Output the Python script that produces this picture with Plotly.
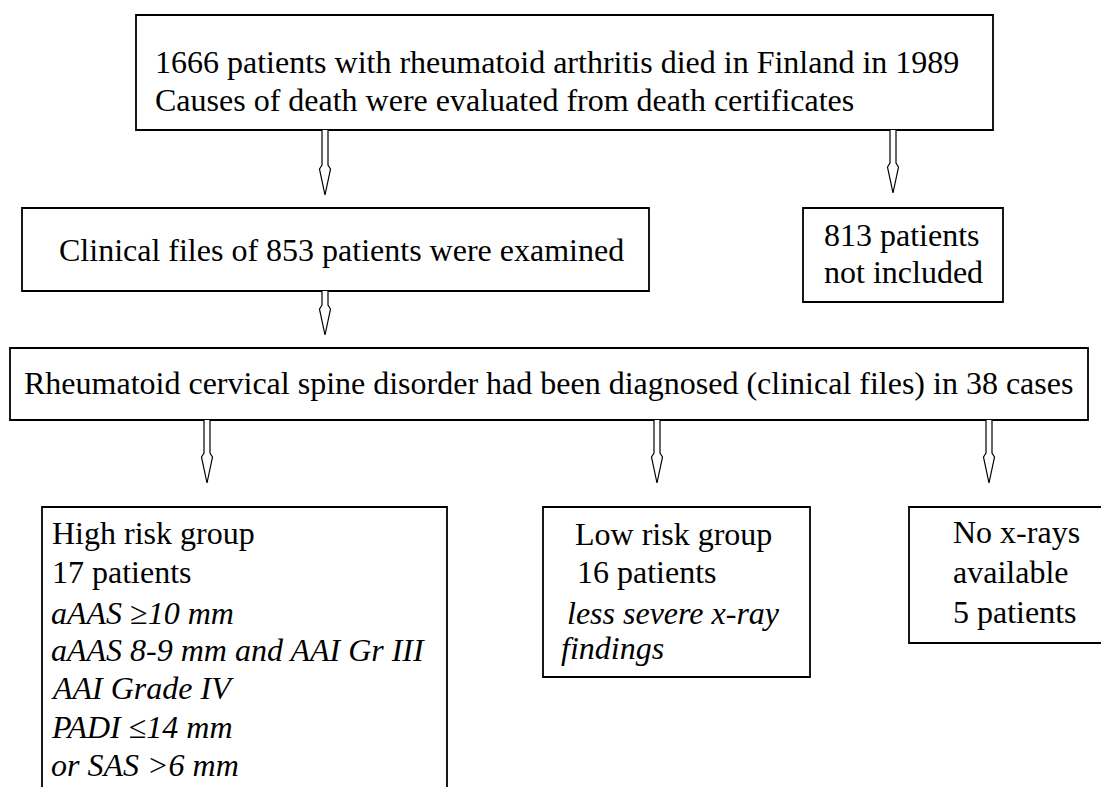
import plotly.graph_objects as go

# ---- data (counts shown in the flowchart) ----
stage_names = ["died", "examined", "not_included", "diagnosed", "high_risk", "low_risk", "no_xray"]
stage_counts = [1666, 853, 813, 38, 17, 16, 5]
study_year = 1989
counts = dict(zip(stage_names, stage_counts))

high_risk_criteria = [
    "aAAS \u226510 mm",
    "aAAS 8-9 mm and AAI Gr III",
    "AAI Grade IV",
    "PADI \u226414 mm",
    "or SAS >6 mm",
]
low_risk_criteria = ["less severe x-ray", "findings"]

# ---- layout geometry (pixels, y downward) ----
W, H = 1109, 787
OFF = 8  # page body margin
FONT = "Times New Roman, Liberation Serif, DejaVu Serif, serif"
FS = 32

boxes = [  # x0, y0, x1, y1
    (136, 15, 993, 130),
    (22, 208, 649, 291),
    (803, 208, 1003, 302),
    (10, 348, 1088, 420),
    (42, 507, 447, 800),
    (543, 507, 810, 677),
    (909, 507, 1115, 643),
]

arrows = [  # x, top, tip
    (325, 130, 195),
    (893, 130, 193),
    (325, 291, 335),
    (207, 420, 483),
    (657, 420, 483),
    (989, 420, 483),
]

texts = [  # (x, y, text)
    (153, 62, f"{counts['died']} patients with rheumatoid arthritis died in Finland in {study_year}"),
    (153, 100, "Causes of death were evaluated from death certificates"),
    (57, 250, f"Clinical files of {counts['examined']} patients were examined"),
    (822, 235, f"{counts['not_included']} patients"),
    (822, 272, "not included"),
    (22, 383, f"Rheumatoid cervical spine disorder had been diagnosed (clinical files) in {counts['diagnosed']} cases"),
    (50, 533, "High risk group"),
    (50, 572, f"{counts['high_risk']} patients"),
    (573, 534, "Low risk group"),
    (575, 572, f"{counts['low_risk']} patients"),
    (951, 532, "No x-rays"),
    (951, 572, "available"),
    (951, 612, f"{counts['no_xray']} patients"),
]
hr_y = [613, 650, 688, 727, 765]
for yy, t in zip(hr_y, high_risk_criteria):
    texts.append((49, yy, f"<i>{t}</i>"))
for (xx, yy), t in zip([(565, 613), (559, 648)], low_risk_criteria):
    texts.append((xx, yy, f"<i>{t}</i>"))

fig = go.Figure()
fig.add_trace(go.Scatter(x=[OFF, W], y=[OFF, H], mode="markers", marker=dict(opacity=0),
                         hoverinfo="skip", showlegend=False))

shapes = []
for x0, y0, x1, y1 in boxes:
    shapes.append(dict(type="rect", xref="x", yref="y", x0=x0, y0=y0, x1=x1, y1=y1,
                       line=dict(color="black", width=1.8), fillcolor="rgba(0,0,0,0)", layer="above"))
for x, top, tip in arrows:
    hs = tip - 30
    path = (f"M {x-3},{top} L {x-3},{hs} L {x-5.5},{hs+4} L {x},{tip} "
            f"L {x+5.5},{hs+4} L {x+3},{hs} L {x+3},{top}")
    shapes.append(dict(type="path", xref="x", yref="y", path=path,
                       line=dict(color="black", width=1.2), fillcolor="white", layer="above"))

annotations = []
for x, y, t in texts:
    annotations.append(dict(x=x, y=y, xref="x", yref="y", text=t, showarrow=False,
                            xanchor="left", yanchor="middle",
                            font=dict(family=FONT, size=FS, color="black")))

fig.update_layout(
    width=W - OFF, height=H - OFF,
    margin=dict(l=0, r=0, t=0, b=0),
    paper_bgcolor="white", plot_bgcolor="white",
    font=dict(family=FONT),
    xaxis=dict(range=[OFF, W], visible=False, fixedrange=True),
    yaxis=dict(range=[H, OFF], visible=False, fixedrange=True),
    shapes=shapes, annotations=annotations, showlegend=False,
)
fig.write_html("out.html")
